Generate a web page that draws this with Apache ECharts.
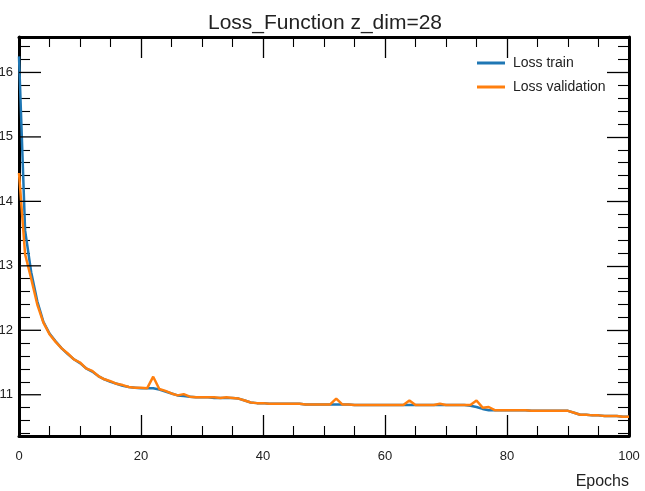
<!DOCTYPE html>
<html>
<head>
<meta charset="utf-8">
<script src="https://cdn.jsdelivr.net/npm/echarts@6/dist/echarts.min.js"></script>
<style>
  html, body { margin: 0; padding: 0; background: #fff; }
  #chart { width: 645px; height: 491px; }
</style>
</head>
<body>
<div id="chart"></div>
<script>
// Per-epoch losses of the autoencoder training run (z_dim = 28)
const epochs = [];
for (let e = 0; e <= 100; e++) epochs.push(e);

const trainLoss = [
  0.1625, 0.1355, 0.1290, 0.1245, 0.1213, 0.1195, 0.1183, 0.1172, 0.1163, 0.1155,
  0.1149, 0.1141, 0.1136, 0.1129, 0.1124, 0.1120, 0.1117, 0.1114, 0.1112, 0.1111,
  0.1110, 0.1110, 0.1110, 0.1108, 0.1105, 0.1102, 0.1099, 0.1098, 0.1097, 0.1096,
  0.1096, 0.1096, 0.1095, 0.1095, 0.1095, 0.1095, 0.1094, 0.1091, 0.1088, 0.1087,
  0.1087, 0.1086, 0.1086, 0.1086, 0.1086, 0.1086, 0.1086, 0.1085, 0.1085, 0.1085,
  0.1085, 0.1085, 0.1085, 0.1085, 0.1085, 0.1084, 0.1084, 0.1084, 0.1084, 0.1084,
  0.1084, 0.1084, 0.1084, 0.1084, 0.1084, 0.1084, 0.1084, 0.1084, 0.1084, 0.1084,
  0.1084, 0.1084, 0.1084, 0.1084, 0.1083, 0.1081, 0.1078, 0.1076, 0.1076, 0.1076,
  0.1076, 0.1076, 0.1076, 0.1076, 0.1075, 0.1075, 0.1075, 0.1075, 0.1075, 0.1075,
  0.1075, 0.1072, 0.1069, 0.1069, 0.1068, 0.1068, 0.1067, 0.1067, 0.1067, 0.1066,
  0.1066
];

const valLoss = [
  0.1444, 0.1318, 0.1280, 0.1240, 0.1212, 0.1194, 0.1182, 0.1172, 0.1164, 0.1155,
  0.1150, 0.1141, 0.1137, 0.1129, 0.1124, 0.1121, 0.1117, 0.1115, 0.1112, 0.1111,
  0.1111, 0.1110, 0.1128, 0.1109, 0.1106, 0.1102, 0.1099, 0.1101, 0.1097, 0.1096,
  0.1096, 0.1096, 0.1096, 0.1095, 0.1096, 0.1095, 0.1094, 0.1091, 0.1088, 0.1087,
  0.1087, 0.1086, 0.1086, 0.1086, 0.1086, 0.1086, 0.1086, 0.1085, 0.1085, 0.1085,
  0.1085, 0.1085, 0.1094, 0.1085, 0.1085, 0.1084, 0.1084, 0.1084, 0.1084, 0.1084,
  0.1084, 0.1084, 0.1084, 0.1084, 0.1091, 0.1084, 0.1084, 0.1084, 0.1084, 0.1086,
  0.1084, 0.1084, 0.1084, 0.1084, 0.1084, 0.1091, 0.1080, 0.1081, 0.1076, 0.1076,
  0.1076, 0.1076, 0.1076, 0.1076, 0.1075, 0.1075, 0.1075, 0.1075, 0.1075, 0.1075,
  0.1075, 0.1072, 0.1069, 0.1069, 0.1068, 0.1068, 0.1067, 0.1067, 0.1067, 0.1066,
  0.1066
];

const seriesNames = ['Loss train', 'Loss validation'];
const seriesColors = ['#1f77b4', '#ff7f0e'];

const xTicks = [0, 20, 40, 60, 80, 100];
const yTicks = [0.11, 0.12, 0.13, 0.14, 0.15, 0.16];
const yRange = [0.1036, 0.1655];

// minor ticks every 0.002 between the y range limits
const yMinor = [];
for (let k = Math.ceil(yRange[0] / 0.002); k * 0.002 <= yRange[1]; k++) {
  const v = +(k * 0.002).toFixed(4);
  if (!yTicks.some(t => Math.abs(t - v) < 1e-9)) yMinor.push(v);
}

const majorLen = 22;
const frame = { show: true, onZero: false, lineStyle: { color: '#000', width: 3 } };
const font = 'Liberation Sans, Arial, sans-serif';
const plotRect = { left: 19, right: 16, top: 37, bottom: 55, containLabel: false, outerBoundsMode: 'none' };

function xAxisDef(grid, pos, labels, visible) {
  return {
    type: 'value', gridIndex: grid, position: pos,
    min: xTicks[0], max: xTicks[xTicks.length - 1], interval: xTicks[1] - xTicks[0],
    show: visible,
    axisLine: frame,
    axisTick: { show: true, inside: true, length: 21, lineStyle: { color: '#000', width: 1.3 } },
    minorTick: { show: true, splitNumber: 4, length: 10, lineStyle: { color: '#000', width: 1.1 } },
    splitLine: { show: false },
    axisLabel: { show: labels, fontSize: 13, color: '#222', fontFamily: font, margin: 14 }
  };
}

// parts: which pieces this axis draws — frame line, major ticks, minor ticks, tick labels
function yAxisDef(grid, pos, parts) {
  const major = parts.indexOf('major') >= 0;
  const minor = parts.indexOf('minor') >= 0;
  return {
    type: 'value', gridIndex: grid, position: pos, min: yRange[0], max: yRange[1],
    axisLine: parts.indexOf('line') >= 0 ? frame : { show: false },
    axisTick: {
      show: major || minor, inside: true, length: major ? majorLen : 11,
      customValues: major ? yTicks : yMinor,
      lineStyle: { color: '#000', width: major ? 1.3 : 1.1 }
    },
    splitLine: { show: false },
    axisLabel: {
      show: parts.indexOf('labels') >= 0, customValues: yTicks,
      fontSize: 13, color: '#222', fontFamily: font,
      margin: 6, formatter: v => v.toFixed(2)
    }
  };
}

const chart = echarts.init(document.getElementById('chart'), null, { renderer: 'canvas' });

const xBottom = xAxisDef(0, 'bottom', true, true);
xBottom.name = 'Epochs';
xBottom.nameLocation = 'end';
xBottom.nameGap = 0;
xBottom.nameTextStyle = {
  fontSize: 16, color: '#222', fontFamily: font,
  align: 'right', verticalAlign: 'top', padding: [38, 0, 0, 0]
};

chart.setOption({
  animation: false,
  backgroundColor: '#fff',
  title: {
    text: 'Loss_Function z_dim=28',
    left: 320, top: 8, textAlign: 'center',
    textStyle: { fontSize: 21, fontWeight: 'normal', color: '#222', fontFamily: font }
  },
  legend: {
    data: seriesNames,
    orient: 'vertical',
    left: 477, top: 56, padding: 0,
    icon: 'rect', itemWidth: 28, itemHeight: 3, itemGap: 10,
    textStyle: { fontSize: 14, color: '#222', fontFamily: font, padding: [0, 0, 0, 3] }
  },
  // three grids share the plot rectangle: frame + data, minor y ticks, y tick labels
  grid: [plotRect, Object.assign({}, plotRect), Object.assign({}, plotRect)],
  xAxis: [
    xBottom,
    xAxisDef(0, 'top', false, true),
    xAxisDef(1, 'bottom', false, false),
    xAxisDef(2, 'bottom', false, false)
  ],
  yAxis: [
    yAxisDef(0, 'left', ['line']),
    yAxisDef(0, 'right', ['line', 'major']),
    yAxisDef(1, 'left', ['minor']),
    yAxisDef(1, 'right', ['minor']),
    yAxisDef(2, 'left', ['labels'])
  ],
  series: [trainLoss, valLoss].map((vals, i) => ({
    name: seriesNames[i],
    type: 'line',
    xAxisIndex: 0,
    yAxisIndex: 0,
    data: epochs.map((e, j) => [e, vals[j]]),
    showSymbol: false,
    symbol: 'none',
    color: seriesColors[i],
    lineStyle: { color: seriesColors[i], width: 2.5 },
    z: 2 + i
  }))
});

// long ticks on the left frame, placed through the y scale of the plot
const leftTicks = yTicks.map(v => {
  const p = chart.convertToPixel({ seriesIndex: 0 }, [xTicks[0], v]);
  return {
    type: 'line', z: 100, silent: true,
    shape: { x1: p[0], y1: p[1], x2: p[0] + majorLen, y2: p[1] },
    style: { stroke: '#000', lineWidth: 1.3 }
  };
});
chart.setOption({ graphic: leftTicks });
</script>
</body>
</html>
